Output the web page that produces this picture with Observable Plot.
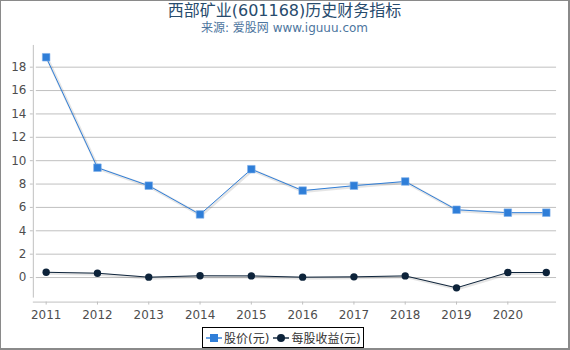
<!DOCTYPE html>
<html>
<head>
<meta charset="utf-8">
<script src="https://cdn.jsdelivr.net/npm/d3@7"></script>
<script src="https://cdn.jsdelivr.net/npm/@observablehq/plot@0.6"></script>
<style>
  html, body { margin: 0; padding: 0; background: #fff; }
  #wrap {
    position: relative; box-sizing: border-box; width: 570px; height: 350px;
    border-style: solid; border-color: #8a8a8a; border-width: 1px 2px 2px 1px;
    font-family: "DejaVu Sans", "Noto Sans CJK SC", sans-serif; overflow: hidden;
  }
  #title { height: 19px; line-height: 19px; text-align: center; font-size: 16px; color: #274b6d; }
  #subtitle { height: 16px; line-height: 16px; text-align: center; font-size: 12px; color: #4d759e; }
  #chart { height: 289px; }
  #chart svg { display: block; }
  #legend {
    position: absolute; left: 201px; top: 326px; height: 19px; padding: 0 2px 0 2px;
    border: 1px solid #000; display: flex; align-items: center; font-size: 12px; color: #333;
    background: #fff; white-space: nowrap;
  }
  .item { display: flex; align-items: center; }
  .item + .item { margin-left: 3px; }
  .item svg { margin-right: 1px; }
</style>
</head>
<body>
<div id="wrap">
  <div id="title"></div>
  <div id="subtitle"></div>
  <div id="chart"></div>
  <div id="legend"></div>
</div>
<script>
// ---- data ----
const titleText = "西部矿业(601168)历史财务指标";
const subtitleText = "来源: 爱股网 www.iguuu.com";
const seriesNames = ["股价(元)", "每股收益(元)"];
const seriesColors = ["#2f7ed8", "#0d233a"];
const periods = [2011, 2012, 2013, 2014, 2015, 2016, 2017, 2018, 2019, 2020, 2020.75];
const price = [18.85, 9.4, 7.86, 5.4, 9.27, 7.44, 7.86, 8.22, 5.8, 5.55, 5.55];
const eps = [0.45, 0.37, 0.03, 0.15, 0.14, 0.03, 0.06, 0.14, -0.88, 0.43, 0.43];
const xTicks = [2011, 2012, 2013, 2014, 2015, 2016, 2017, 2018, 2019, 2020];
const yTicks = [0, 2, 4, 6, 8, 10, 12, 14, 16, 18];
const xDomain = [2010.75, 2020.95];
const yDomain = [-1.76, 19.86];

document.getElementById("title").textContent = titleText;
document.getElementById("subtitle").textContent = subtitleText;

const priceData = periods.map((p, i) => ({x: p, y: price[i]}));
const epsData = periods.map((p, i) => ({x: p, y: eps[i]}));

const grid = "#c0c0c0";
const label = "#4d4d4d";

const chart = Plot.plot({
  width: 570,
  height: 289,
  marginLeft: 32,
  marginRight: 12,
  marginTop: 9,
  marginBottom: 26,
  style: {fontFamily: "DejaVu Sans, sans-serif", fontSize: "12px", color: label, background: "#fff"},
  x: {domain: xDomain, label: null},
  y: {domain: yDomain, label: null},
  marks: [
    Plot.gridY(yTicks, {stroke: grid, strokeOpacity: 1, insetLeft: 3}),
    Plot.ruleX([xDomain[0]], {stroke: grid}),
    Plot.ruleY([yDomain[0]], {stroke: grid, dy: 4}),
    Plot.axisY(yTicks, {tickSize: 3, tickPadding: 4, stroke: grid, tickFormat: () => "", label: null}),
    Plot.axisY(yTicks, {tickSize: 0, tickPadding: 7, fill: label, fontSize: 12, label: null}),
    Plot.axisX(xTicks, {tickSize: 3, stroke: grid, dy: 4, tickFormat: () => "", label: null}),
    Plot.axisX(xTicks, {tickSize: 0, tickPadding: 8, dy: 4, fill: label, fontSize: 12, tickFormat: d => String(d), label: null}),
    // shadows
    Plot.line(priceData, {x: "x", y: "y", stroke: "#000", strokeOpacity: 0.1, strokeWidth: 3, dx: 1, dy: 1}),
    Plot.line(epsData, {x: "x", y: "y", stroke: "#000", strokeOpacity: 0.1, strokeWidth: 3, dx: 1, dy: 1}),
    Plot.line(priceData, {x: "x", y: "y", stroke: seriesColors[0], strokeWidth: 1}),
    Plot.line(epsData, {x: "x", y: "y", stroke: seriesColors[1], strokeWidth: 1}),
    Plot.dot(priceData, {x: "x", y: "y", symbol: "square", r: 4.3, fill: seriesColors[0], stroke: "#7fb0ea", strokeWidth: 0.6}),
    Plot.dot(epsData, {x: "x", y: "y", symbol: "circle", r: 3.7, fill: seriesColors[1]})
  ]
});
document.getElementById("chart").appendChild(chart);

// legend
const legend = document.getElementById("legend");
seriesNames.forEach((name, i) => {
  const item = document.createElement("div");
  item.className = "item";
  const sym = i === 0
    ? `<rect x="5" y="5" width="8" height="8" fill="${seriesColors[i]}"/>`
    : `<circle cx="9" cy="9" r="4" fill="${seriesColors[i]}"/>`;
  item.innerHTML = `<svg width="18" height="18"><line x1="1" x2="17" y1="9" y2="9" stroke="${seriesColors[i]}" stroke-width="2" opacity="0.7"/>${sym}</svg><span>${name}</span>`;
  legend.appendChild(item);
});
</script>
</body>
</html>
